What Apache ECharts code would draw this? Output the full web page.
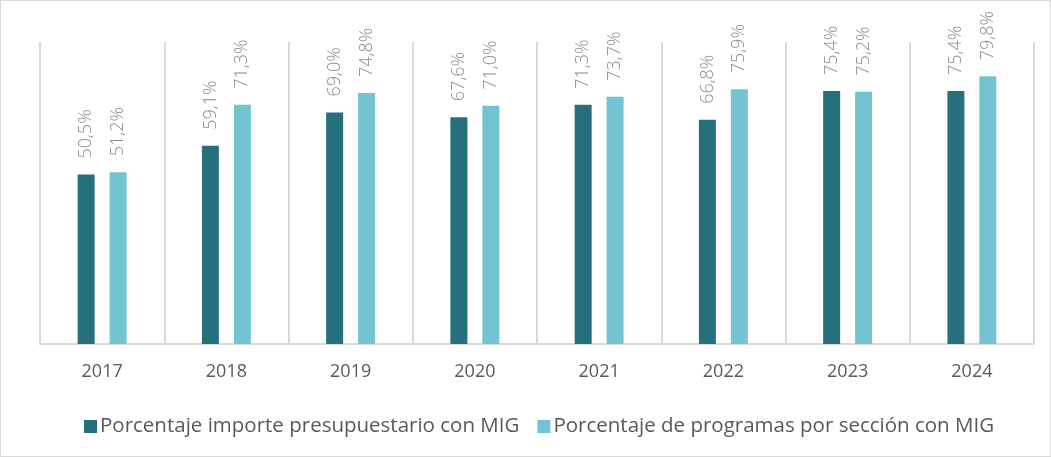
<!DOCTYPE html>
<html>
<head>
<meta charset="utf-8">
<script src="https://cdn.jsdelivr.net/npm/echarts@6/dist/echarts.min.js"></script>
<style>
  html,body{margin:0;padding:0;background:#fff;}
  #d{width:1051px;height:457px;box-sizing:border-box;border:1px solid #d9d9d9;}
</style>
</head>
<body>
<div id="d"></div>
<script>
var years=['2017','2018','2019','2020','2021','2022','2023','2024'];
var importe=[50.5,59.1,69.0,67.6,71.3,66.8,75.4,75.4];
var programas=[51.2,71.3,74.8,71.0,73.7,75.9,75.2,79.8];
var names=['Porcentaje importe presupuestario con MIG','Porcentaje de programas por sección con MIG'];

var myChart=echarts.init(document.getElementById('d'));
var fnt='Open Sans';
function lbl(){
  return {
    show:true,
    position:'top',
    rotate:90,
    align:'left',
    verticalAlign:'middle',
    distance:16,
    color:'#8c8c8c',
    fontSize:18,
    fontWeight:300,
    fontFamily:fnt,
    formatter:function(p){return p.value.toFixed(1).replace('.',',')+'%';}
  };
}
option = {
  animation:false,
  grid:{left:39,right:16,top:41,bottom:112},
  xAxis:{
    type:'category',
    data:years,
    axisLine:{lineStyle:{color:'#d9d9d9',width:2}},
    axisTick:{show:false},
    axisLabel:{color:'#595959',fontSize:18,fontFamily:fnt,margin:19},
    splitLine:{show:true,showMinLine:true,showMaxLine:true,lineStyle:{color:'#d9d9d9',width:2}}
  },
  yAxis:{
    type:'value',min:0,max:90,
    show:false,
    splitLine:{show:false}
  },
  legend:{
    left:78,top:410,
    itemWidth:13,itemHeight:13,itemGap:18,
    icon:'rect',
    textStyle:{color:'#595959',fontSize:20.5,fontFamily:fnt,padding:[0,0,0,-2]},
    data:names
  },
  series:[
    {name:names[0],type:'bar',data:importe,barWidth:17,barGap:'88%',
     itemStyle:{color:'#266f7d'},label:lbl()},
    {name:names[1],type:'bar',data:programas,barWidth:17,
     itemStyle:{color:'#74c3d2'},label:lbl()}
  ]
};
option && myChart.setOption(option);
</script>
</body>
</html>
